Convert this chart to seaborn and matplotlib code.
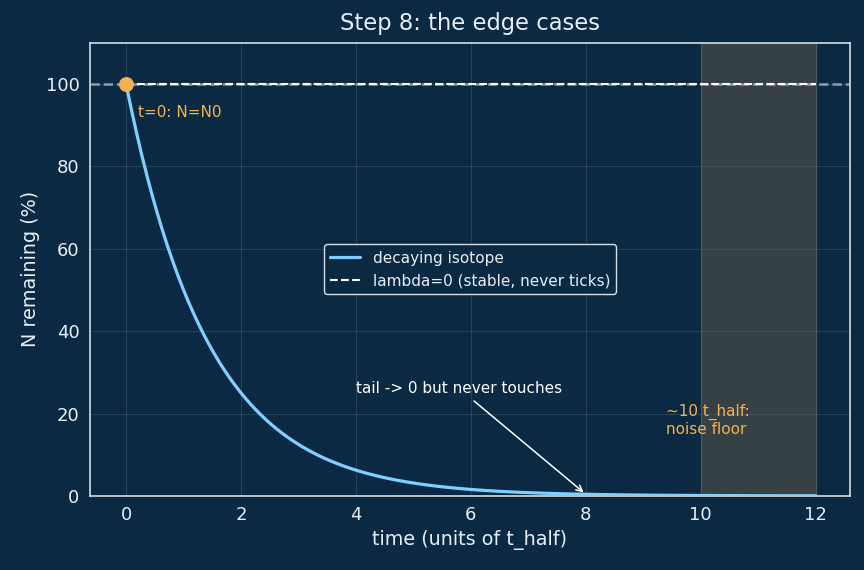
import numpy as np
import matplotlib
matplotlib.use("Agg")
import matplotlib.pyplot as plt
import seaborn as sns
import pandas as pd

# data
t_half_units = np.linspace(0, 12, 400)
remaining = 100 * 0.5 ** t_half_units
stable_t = [0, 12]
stable_n = [100, 100]
start_point = (0, 100)
tail_point = (8, 100 * 0.5 ** 8)
noise_span = (10, 12)

BG = "#0b2942"
FG = "#e8eef5"
BLUE = "#7fd0ff"
ORANGE = "#f5b24e"

sns.set_theme(style="darkgrid")
plt.rcParams["font.family"] = ["DejaVu Sans"]

fig, ax = plt.subplots(figsize=(8.64, 5.7), dpi=100)
fig.patch.set_facecolor(BG)
ax.set_facecolor(BG)

df = pd.DataFrame({"t": t_half_units, "N": remaining})
ax.axhline(100, color="#a8b6c4", ls="--", lw=1.8, alpha=0.8, zorder=1)
ax.axvspan(*noise_span, color=ORANGE, alpha=0.18, zorder=0)
sns.lineplot(data=df, x="t", y="N", ax=ax, color=BLUE, lw=2.3, label="decaying isotope", zorder=3)
sns.lineplot(x=stable_t, y=stable_n, ax=ax, color="white", lw=1.5, ls="--",
             label="lambda=0 (stable, never ticks)", zorder=2)
ax.scatter([start_point[0]], [start_point[1]], s=95, color=ORANGE, zorder=5)

ax.text(0.2, 92, "t=0: N=N0", color=ORANGE, fontsize=11)
ax.text(9.4, 15, "~10 t_half:\nnoise floor", color=ORANGE, fontsize=11)
ax.annotate("tail -> 0 but never touches", xy=tail_point, xytext=(4, 25),
            color="white", fontsize=11,
            arrowprops=dict(arrowstyle="->", color="white", lw=1.1))

ax.set_xlim(-0.63, 12.6)
ax.set_ylim(0, 110)
ax.set_xticks([0, 2, 4, 6, 8, 10, 12])
ax.set_yticks([0, 20, 40, 60, 80, 100])
ax.grid(True, color="#5a7088", alpha=0.35, lw=0.8)
for s in ax.spines.values():
    s.set_visible(True)
    s.set_color("#d5dde6")
    s.set_linewidth(1.2)
ax.tick_params(colors=FG, labelsize=13, length=4, color=FG)
ax.set_xlabel("time (units of t_half)", color=FG, fontsize=13.8)
ax.set_ylabel("N remaining (%)", color=FG, fontsize=13.8)
ax.set_title("Step 8: the edge cases", color=FG, fontsize=16.3, pad=9)

leg = ax.legend(loc="center", facecolor=BG, edgecolor="#d5dde6", fontsize=11,
                framealpha=1)
for txt in leg.get_texts():
    txt.set_color(FG)

fig.subplots_adjust(left=0.104, right=0.984, top=0.925, bottom=0.13)
fig.savefig("out.png", dpi=100, facecolor=BG)
